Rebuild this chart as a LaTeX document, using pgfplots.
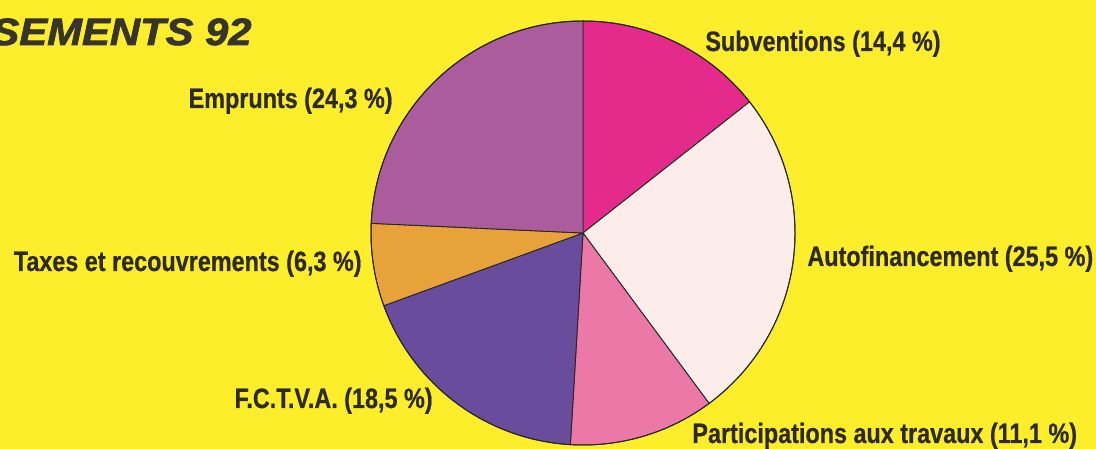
\documentclass[border=0pt]{standalone}
\usepackage{pgfplots}
\usepackage{pgfplotstable}
\pgfplotsset{compat=1.18}
\usepackage{fontspec}
\setmainfont{Liberation Sans}
\newfontfamily\lab{Liberation Sans}[FakeStretch=0.835, FakeBold=0.6]
\newfontfamily\ttl{Liberation Sans}[FakeStretch=1.1, FakeBold=2]
\definecolor{bg}{HTML}{FDEE2C}
\definecolor{txt}{HTML}{2E2A1E}
\definecolor{ttlc}{HTML}{38342C}
\definecolor{c0}{HTML}{E42B8C}
\definecolor{c1}{HTML}{FCEDEB}
\definecolor{c2}{HTML}{EC78A8}
\definecolor{c3}{HTML}{6A4C9C}
\definecolor{c4}{HTML}{E8A23A}
\definecolor{c5}{HTML}{AA5C9C}

\pgfplotstableread{
label value
Subventions 14.4
Autofinancement 25.5
Participations 11.1
FCTVA 18.5
Taxes 6.3
Emprunts 24.3
}\piedata

\begin{document}
\begin{tikzpicture}
% cumulative angles from the table
\gdef\cum{90}
\gdef\tot{0}
\foreach \i in {0,...,5}{
  \pgfplotstablegetelem{\i}{value}\of\piedata
  \pgfmathsetmacro{\t}{\tot+\pgfplotsretval}
  \xdef\tot{\t}
}
\foreach \i in {0,...,5}{
  \pgfplotstablegetelem{\i}{value}\of\piedata
  \pgfmathsetmacro{\e}{\cum-\pgfplotsretval/\tot*360}
  \expandafter\xdef\csname sa\i\endcsname{\cum}
  \expandafter\xdef\csname ea\i\endcsname{\e}
  \xdef\cum{\e}
}
\begin{axis}[x=0.5pt, y=0.5pt, xmin=0, xmax=1096, ymin=0, ymax=449,
  hide axis, clip=false]
\fill[bg] (axis cs:0,0) rectangle (axis cs:1096,449);
\coordinate (bl) at (axis cs:0,0);
\coordinate (tr) at (axis cs:1096,449);
\pgfplotsinvokeforeach{0,...,5}{
  \fill[c#1, draw=black!85, line width=0.45pt, line join=round]
    (axis cs:583,216) -- ++(\csname sa#1\endcsname:106pt)
    arc[start angle=\csname sa#1\endcsname, end angle=\csname ea#1\endcsname, radius=106pt] -- cycle;
}
\draw[black!85, line width=0.5pt] (axis cs:583,216) circle[radius=106pt];
\begin{scope}[every node/.style={inner sep=0pt, text=txt, font=\lab\bfseries\fontsize{14}{16}\selectfont}]
\node[anchor=base west] at (axis cs:705,398) {Subventions (14,4~\%)};
\node[anchor=base west] at (axis cs:807,183) {Autofinancement (25,5~\%)};
\node[anchor=base west] at (axis cs:692,6) {Participations aux travaux (11,1~\%)};
\node[anchor=base east] at (axis cs:433,41) {F.C.T.V.A. (18,5~\%)};
\node[anchor=base east] at (axis cs:362,178) {Taxes et recouvrements (6,3~\%)};
\node[anchor=base east] at (axis cs:393,341) {Emprunts (24,3~\%)};
\end{scope}
\node[anchor=base east, inner sep=0pt, text=ttlc, font=\ttl\bfseries\itshape\fontsize{19}{22}\selectfont] at (axis cs:252,404) {SEMENTS 92};
\end{axis}
\pgfresetboundingbox
\useasboundingbox (bl) rectangle (tr);
\end{tikzpicture}
\end{document}
